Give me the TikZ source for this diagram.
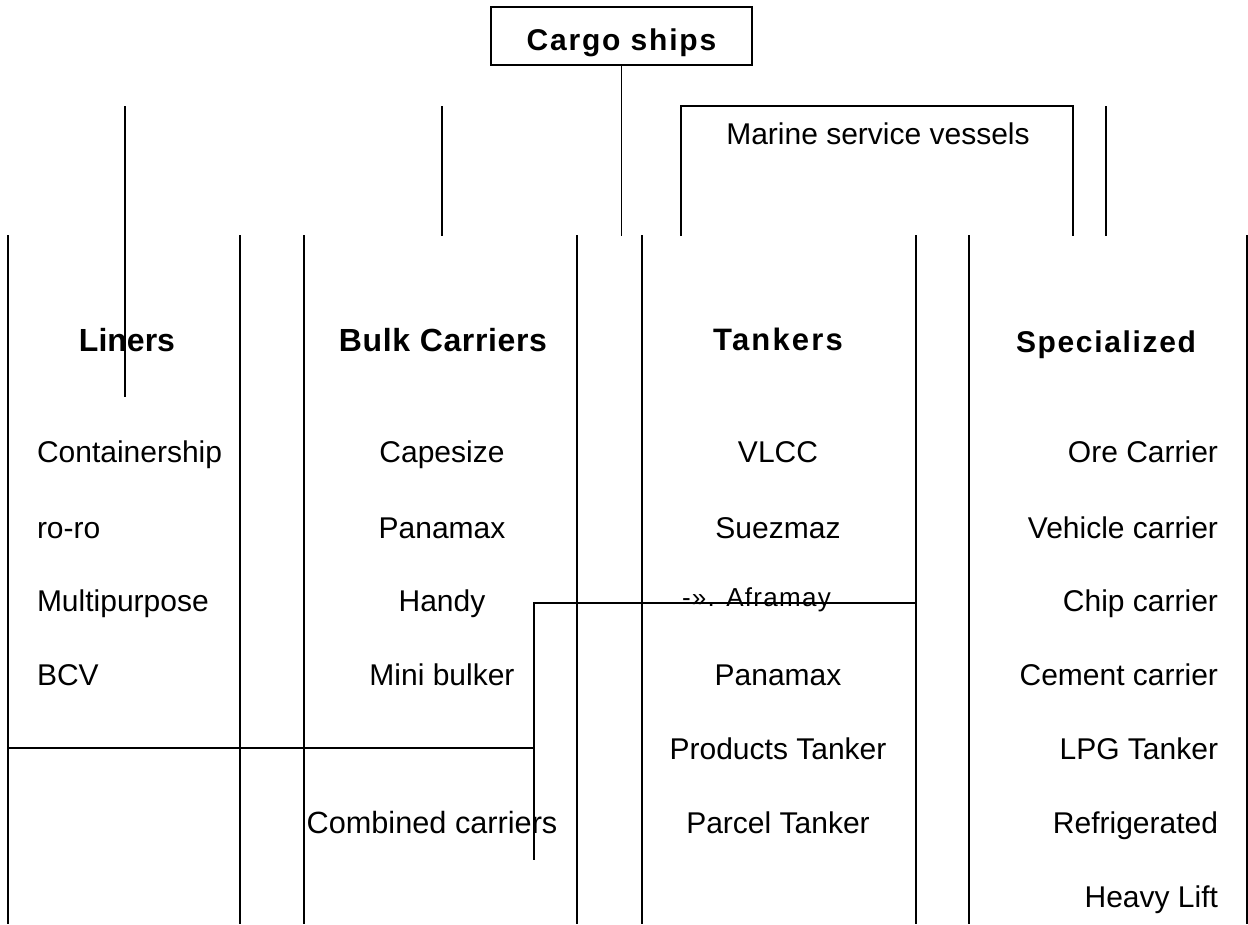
\documentclass[tikz,border=0pt]{standalone}
\usepackage{fontspec}
\setmainfont{Liberation Sans}
\begin{document}
\begin{tikzpicture}[x=1pt,y=-1pt,line width=1.3pt,
  every node/.style={inner sep=0pt,outer sep=0pt},
  titlebox/.style={draw,line width=1.1pt,minimum width=261pt,minimum height=58pt},
  head/.style={anchor=base,font=\fontsize{32}{38}\selectfont\bfseries},
  item/.style={font=\fontsize{30}{36}\selectfont},
  citem/.style={item,anchor=base},
  litem/.style={item,anchor=base west},
  ritem/.style={item,anchor=base east}]
\useasboundingbox (0,0) rectangle (1248,924);
% title
\node[titlebox] (cargo) at (621.5,36) {};
\node[anchor=base,font=\fontsize{30}{36}\selectfont\bfseries\addfontfeature{LetterSpace=6}] (cargotxt) at (621.5,50) {Cargo ships};
\coordinate (cargoend) at (621.5,236);
\draw (cargo.south) -- (cargoend);
% marine service vessels bracket
\coordinate (m1) at (681,236);
\coordinate (m2) at (681,106);
\coordinate (m3) at (1073,106);
\coordinate (m4) at (1073,236);
\draw (m1) -- (m2) -- (m3) -- (m4);
\node[item,anchor=base] (marine) at (878,144) {Marine service vessels};
% stray verticals
\coordinate (v1a) at (125,106); \coordinate (v1b) at (125,397);
\coordinate (v2a) at (442,106); \coordinate (v2b) at (442,236);
\coordinate (v3a) at (1106,106); \coordinate (v3b) at (1106,236);
\draw (v1a) -- (v1b);
\draw (v2a) -- (v2b);
\draw (v3a) -- (v3b);
% column lines
\foreach \x [count=\i] in {8,240,304,577,642,916,969,1247}{
  \coordinate (ct\i) at (\x,235);
  \coordinate (cb\i) at (\x,924);
  \draw (ct\i) -- (cb\i);
}
% other lines
\coordinate (h1a) at (534,603); \coordinate (h1b) at (916,603);
\coordinate (h1c) at (534,860);
\draw (h1b) -- (h1a) -- (h1c);
\coordinate (h2a) at (8,748); \coordinate (h2b) at (534,748);
\draw (h2a) -- (h2b);
% headers
\node[head] (liners) at (127,351) {Liners};
\node[head] (bulk) at (443,351) {\addfontfeature{LetterSpace=2}Bulk Carriers};
\node[head,font=\fontsize{31}{37}\selectfont\bfseries\addfontfeature{LetterSpace=7}] (tankers) at (778,350) {Tankers};
\node[head,font=\fontsize{30}{36}\selectfont\bfseries\addfontfeature{LetterSpace=5.5}] (spec) at (1106,352) {Specialized};
% liners items
\node[litem] (l1) at (37,462) {Containership};
\node[litem] (l2) at (37,538) {ro-ro};
\node[litem] (l3) at (37,611) {Multipurpose};
\node[litem] (l4) at (37,685) {BCV};
% bulk items
\node[citem] (b1) at (442,462) {Capesize};
\node[citem] (b2) at (442,538) {Panamax};
\node[citem] (b3) at (442,611) {Handy};
\node[citem] (b4) at (442,685) {Mini bulker};
\node[citem,font=\fontsize{30.7}{36}\selectfont] (b5) at (432,833) {Combined carriers};
% tankers items
\node[citem] (t1) at (778,462) {VLCC};
\node[citem] (t2) at (778,538) {Suezmaz};
\node[anchor=base west,font=\fontsize{26}{32}\selectfont\addfontfeature{LetterSpace=5}] (t3) at (682,606) {-». Aframay};
\node[citem] (t4) at (778,685) {Panamax};
\node[citem] (t5) at (778,759) {Products Tanker};
\node[citem] (t6) at (778,833) {Parcel Tanker};
% specialized items
\node[ritem] (s1) at (1218,462) {Ore Carrier};
\node[ritem] (s2) at (1218,538) {Vehicle carrier};
\node[ritem] (s3) at (1218,611) {Chip carrier};
\node[ritem] (s4) at (1218,685) {Cement carrier};
\node[ritem] (s5) at (1218,759) {LPG Tanker};
\node[ritem] (s6) at (1218,833) {Refrigerated};
\node[ritem] (s7) at (1218,907) {Heavy Lift};
\end{tikzpicture}
\end{document}
